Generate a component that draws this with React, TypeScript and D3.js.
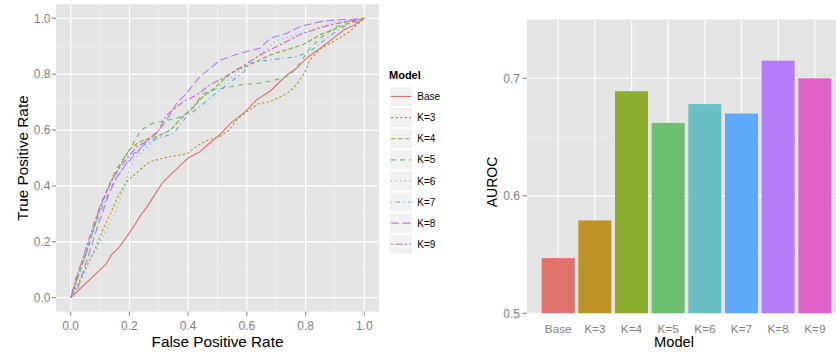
import React from 'react'
import * as d3 from 'd3'

const models = ['Base', 'K=3', 'K=4', 'K=5', 'K=6', 'K=7', 'K=8', 'K=9']
const colors = ['#E0736C', '#BE9428', '#8CAD2D', '#6DBE6E', '#6CBFC2', '#60A8F8', '#B67BF6', '#DF62C8']
const aurocValues = [0.547, 0.579, 0.689, 0.662, 0.678, 0.67, 0.715, 0.7]

const rocTicks = [0, 0.2, 0.4, 0.6, 0.8, 1.0]
const rocMinor = [0.1, 0.3, 0.5, 0.7, 0.9]
const aucTicks = [0.5, 0.6, 0.7]
const aucMinor = [0.55, 0.65, 0.75]

// ROC curves, [false positive rate, true positive rate]
const rocBase = [
    [0, 0], [0.04, 0.04], [0.09, 0.09], [0.12, 0.12], [0.14, 0.155], [0.165, 0.18], [0.195, 0.225],
    [0.215, 0.255], [0.235, 0.29], [0.26, 0.325], [0.29, 0.375], [0.315, 0.415], [0.345, 0.445],
    [0.37, 0.47], [0.4, 0.5], [0.44, 0.522], [0.47, 0.55], [0.51, 0.585], [0.545, 0.625],
    [0.595, 0.666], [0.633, 0.708], [0.68, 0.74], [0.736, 0.797], [0.77, 0.821], [0.805, 0.859],
    [0.85, 0.893], [0.895, 0.929], [0.93, 0.958], [0.963, 0.974], [1, 1],
]
const rocK3 = [
    [0, 0], [0.03, 0.06], [0.06, 0.125], [0.09, 0.19], [0.11, 0.245], [0.135, 0.3], [0.16, 0.36],
    [0.19, 0.415], [0.235, 0.457], [0.26, 0.48], [0.28, 0.49], [0.33, 0.503], [0.395, 0.515],
    [0.44, 0.55], [0.475, 0.567], [0.51, 0.578], [0.54, 0.6], [0.565, 0.636], [0.6, 0.666],
    [0.64, 0.694], [0.68, 0.702], [0.736, 0.73], [0.77, 0.762], [0.798, 0.809], [0.815, 0.851],
    [0.85, 0.89], [0.905, 0.923], [0.95, 0.952], [1, 1],
]
const rocK4 = [
    [0, 0], [0.02, 0.06], [0.05, 0.15], [0.08, 0.25], [0.1, 0.32], [0.13, 0.4], [0.16, 0.46],
    [0.2, 0.53], [0.23, 0.555], [0.25, 0.565], [0.29, 0.576], [0.34, 0.6], [0.37, 0.636],
    [0.41, 0.672], [0.45, 0.72], [0.49, 0.75], [0.53, 0.79], [0.565, 0.815], [0.62, 0.839],
    [0.68, 0.869], [0.735, 0.887], [0.79, 0.905], [0.85, 0.941], [0.905, 0.964], [0.96, 0.988], [1, 1],
]
const rocK5 = [
    [0, 0], [0.03, 0.09], [0.06, 0.18], [0.1, 0.33], [0.15, 0.45], [0.2, 0.53], [0.24, 0.6],
    [0.28, 0.625], [0.33, 0.635], [0.37, 0.645], [0.41, 0.67], [0.45, 0.73], [0.49, 0.745],
    [0.52, 0.75], [0.58, 0.762], [0.645, 0.768], [0.713, 0.783], [0.747, 0.797], [0.78, 0.839],
    [0.815, 0.893], [0.85, 0.929], [0.895, 0.964], [0.94, 0.988], [1, 1],
]
const rocK6 = [
    [0, 0], [0.03, 0.05], [0.066, 0.135], [0.1, 0.2], [0.15, 0.3], [0.19, 0.42], [0.21, 0.49],
    [0.25, 0.53], [0.3, 0.575], [0.35, 0.61], [0.4, 0.67], [0.45, 0.72], [0.5, 0.75], [0.55, 0.79],
    [0.6, 0.835], [0.65, 0.875], [0.7, 0.92], [0.75, 0.935], [0.8, 0.95], [0.85, 0.97], [0.9, 0.985], [1, 1],
]
const rocK7 = [
    [0, 0], [0.02, 0.08], [0.05, 0.16], [0.08, 0.25], [0.11, 0.33], [0.14, 0.4], [0.17, 0.45],
    [0.2, 0.5], [0.24, 0.54], [0.28, 0.565], [0.32, 0.578], [0.35, 0.588], [0.395, 0.648],
    [0.44, 0.684], [0.5, 0.737], [0.54, 0.768], [0.59, 0.809], [0.61, 0.839], [0.656, 0.848],
    [0.713, 0.855], [0.77, 0.863], [0.815, 0.881], [0.85, 0.911], [0.895, 0.946], [0.94, 0.976], [1, 1],
]
const rocK8 = [
    [0, 0], [0.02, 0.02], [0.035, 0.07], [0.06, 0.15], [0.09, 0.25], [0.13, 0.37], [0.157, 0.433],
    [0.19, 0.48], [0.225, 0.517], [0.26, 0.565], [0.293, 0.589], [0.327, 0.636], [0.361, 0.696],
    [0.395, 0.732], [0.44, 0.791], [0.51, 0.851], [0.577, 0.875], [0.645, 0.893], [0.68, 0.929],
    [0.736, 0.946], [0.78, 0.97], [0.85, 0.988], [0.905, 0.994], [1, 1],
]
const rocK9 = [
    [0, 0], [0.02, 0.07], [0.05, 0.17], [0.08, 0.27], [0.11, 0.35], [0.14, 0.42], [0.17, 0.47],
    [0.2, 0.51], [0.225, 0.541], [0.26, 0.56], [0.3, 0.6], [0.327, 0.654], [0.384, 0.702],
    [0.43, 0.726], [0.474, 0.762], [0.52, 0.786], [0.554, 0.809], [0.6, 0.839], [0.656, 0.875],
    [0.713, 0.905], [0.78, 0.941], [0.826, 0.958], [0.883, 0.976], [0.94, 0.988], [1, 1],
]
const rocCurves = [rocBase, rocK3, rocK4, rocK5, rocK6, rocK7, rocK8, rocK9]

// ggplot linetypes (solid, 22, 42, 44, 13, 1343, 73, 2262) in px
const u = 1.15
const dashes = [[], [2, 2], [4, 2], [4, 4], [1, 3], [1, 3, 4, 3], [7, 3], [2, 2, 6, 2]].map((d) =>
    d.map((v) => v * u).join(',')
)

const font = '"Liberation Sans", Arial, Helvetica, sans-serif'
const tickGrey = '#7f7f7f'

export default function App() {
    // left: ROC panel
    const xRoc = d3.scaleLinear().domain([0, 1]).range([70.7, 364.3])
    const yRoc = d3.scaleLinear().domain([0, 1]).range([297.7, 18.3])
    const line = d3
        .line<number[]>()
        .x((d) => xRoc(d[0]))
        .y((d) => yRoc(d[1]))
    const pL = xRoc(-0.05)
    const pR = xRoc(1.05)
    const pT = yRoc(1.05)
    const pB = yRoc(-0.05)

    // right: AUROC bars
    const xAuc = d3.scalePoint().domain(models).range([527, 846]).padding(0.85)
    const yAuc = d3.scaleLinear().domain([0.5, 0.75]).range([313.3, 19.5])
    const barW = xAuc.step() * 0.9
    const fmt = d3.format('.1f')

    const legendY0 = 96.5
    const legendStep = 21.1

    return (
        <svg width={836} height={352} style={{ display: 'block', fontFamily: font }}>
            <style>{'body{margin:0}'}</style>

            {/* ROC panel */}
            <rect x={pL} y={pT} width={pR - pL} height={pB - pT} fill="#e5e5e5" />
            {rocMinor.map((t) => (
                <g key={'rm' + t}>
                    <line x1={xRoc(t)} x2={xRoc(t)} y1={pT} y2={pB} stroke="#f2f2f2" strokeWidth={0.6} />
                    <line x1={pL} x2={pR} y1={yRoc(t)} y2={yRoc(t)} stroke="#f2f2f2" strokeWidth={0.6} />
                </g>
            ))}
            {rocTicks.map((t) => (
                <g key={'rM' + t}>
                    <line x1={xRoc(t)} x2={xRoc(t)} y1={pT} y2={pB} stroke="#fff" strokeWidth={1.2} />
                    <line x1={pL} x2={pR} y1={yRoc(t)} y2={yRoc(t)} stroke="#fff" strokeWidth={1.2} />
                    <line x1={xRoc(t)} x2={xRoc(t)} y1={pB} y2={pB + 4} stroke={tickGrey} />
                    <line x1={pL - 4} x2={pL} y1={yRoc(t)} y2={yRoc(t)} stroke={tickGrey} />
                    <text x={xRoc(t)} y={329.5} textAnchor="middle" fontSize={12} fill={tickGrey}>
                        {fmt(t)}
                    </text>
                    <text x={pL - 5.5} y={yRoc(t) + 4.3} textAnchor="end" fontSize={12} fill={tickGrey}>
                        {fmt(t)}
                    </text>
                </g>
            ))}
            {rocCurves.map((c, i) => (
                <path
                    key={'c' + i}
                    d={line(c) || ''}
                    fill="none"
                    stroke={colors[i]}
                    strokeWidth={1.15}
                    strokeDasharray={dashes[i]}
                />
            ))}
            <text x={(pL + pR) / 2} y={347} textAnchor="middle" fontSize={15.3} fill="#000">
                False Positive Rate
            </text>
            <text
                transform={`translate(27.5, ${(pT + pB) / 2}) rotate(-90)`}
                textAnchor="middle"
                fontSize={15.3}
                fill="#000"
            >
                True Positive Rate
            </text>

            {/* legend */}
            <text x={389} y={79.3} fontSize={11} fontWeight="bold">
                Model
            </text>
            {models.map((m, i) => {
                const cy = legendY0 + i * legendStep
                return (
                    <g key={'lg' + m}>
                        <rect x={389.5} y={cy - 10} width={23} height={20} fill="#f2f2f2" stroke="#fff" />
                        <line
                            x1={391}
                            x2={411}
                            y1={cy}
                            y2={cy}
                            stroke={colors[i]}
                            strokeWidth={1.15}
                            strokeDasharray={dashes[i]}
                        />
                        <text x={417.3} y={cy + 3.6} fontSize={10}>
                            {m}
                        </text>
                    </g>
                )
            })}

            {/* AUROC panel */}
            <rect x={527} y={yAuc(0.75)} width={846 - 527} height={yAuc(0.5) - yAuc(0.75)} fill="#e5e5e5" />
            {aucMinor.map((t) => (
                <line key={'am' + t} x1={527} x2={846} y1={yAuc(t)} y2={yAuc(t)} stroke="#f2f2f2" strokeWidth={0.6} />
            ))}
            {aucTicks.map((t) => (
                <g key={'aM' + t}>
                    <line x1={527} x2={846} y1={yAuc(t)} y2={yAuc(t)} stroke="#fff" strokeWidth={1.2} />
                    <line x1={522.5} x2={527} y1={yAuc(t)} y2={yAuc(t)} stroke={tickGrey} />
                    <text x={520} y={yAuc(t) + 4.3} textAnchor="end" fontSize={12} fill={tickGrey}>
                        {fmt(t)}
                    </text>
                </g>
            ))}
            {models.map((m) => (
                <line key={'av' + m} x1={xAuc(m)} x2={xAuc(m)} y1={yAuc(0.75)} y2={yAuc(0.5)} stroke="#fff" strokeWidth={1.2} />
            ))}
            {models.map((m, i) => (
                <rect
                    key={'bar' + m}
                    x={(xAuc(m) as number) - barW / 2}
                    y={yAuc(aurocValues[i])}
                    width={barW}
                    height={yAuc(0.5) - yAuc(aurocValues[i])}
                    fill={colors[i]}
                />
            ))}
            {models.map((m) => (
                <text key={'at' + m} x={xAuc(m)} y={332.5} textAnchor="middle" fontSize={11.8} fill={tickGrey}>
                    {m}
                </text>
            ))}
            <text x={674} y={347} textAnchor="middle" fontSize={14.7} fill="#000">
                Model
            </text>
            <text
                transform={`translate(497, 182) rotate(-90)`}
                textAnchor="middle"
                fontSize={14}
                fill="#000"
            >
                AUROC
            </text>
        </svg>
    )
}
